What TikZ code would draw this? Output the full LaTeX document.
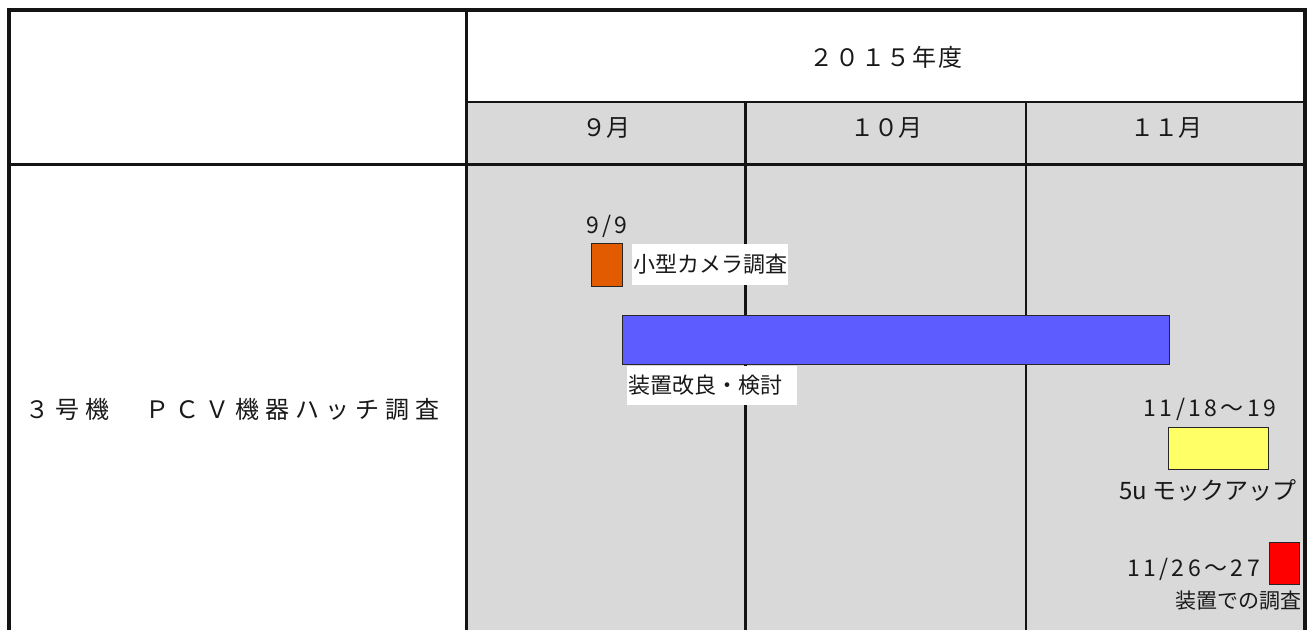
\documentclass[tikz,border=0pt]{standalone}
\usepackage{fontspec}
\newfontfamily\jp{Noto Sans CJK JP}
\newfontfamily\jpwide[LetterSpace=25]{Noto Sans CJK JP}
\newfontfamily\jpyear[LetterSpace=7]{Noto Sans CJK JP}
\newfontfamily\jpdate[LetterSpace=15]{Noto Sans CJK JP}
\definecolor{cellgrey}{HTML}{D9D9D9}
\definecolor{camorange}{HTML}{E35B00}
\definecolor{barblue}{HTML}{5C5CFF}
\definecolor{mockyellow}{HTML}{FFFF66}
\definecolor{probered}{HTML}{FF0000}
\tikzset{
  gridline/.style={line width=2.5pt, draw=black!92},
  outerline/.style={line width=4pt, draw=black!92, line join=miter},
  bar/.style={draw=black!85, line width=1.3pt, inner sep=0pt, anchor=north west},
  head/.style={font=\jp\fontsize{24}{28}\selectfont, inner sep=0pt, text=black!90},
  small/.style={font=\jp\fontsize{22}{26}\selectfont, inner sep=0pt, text=black!90},
  datelbl/.style={font=\jpdate\fontsize{23}{27}\selectfont, inner sep=0pt, text=black!90},
}
\begin{document}
\begin{tikzpicture}[x=1pt,y=-1pt]
\useasboundingbox (0,0) rectangle (1310,630);
\fill[white] (0,0) rectangle (1310,630);
% grey area
\fill[cellgrey] (466,101) rectangle (1305,630);
% grid
\draw[gridline, line width=2pt] (466,101.7) -- (1305,101.7);
\draw[gridline, line width=3pt] (9,164) -- (1305,164);
\draw[gridline] (466.5,10) -- (466.5,630);
\draw[gridline] (745.5,101) -- (745.5,630);
\draw[gridline] (1026,101) -- (1026,630);
% outer frame
\draw[outerline] (9,630) -- (9,10) -- (1305,10) -- (1305,630);
% header texts
\node[head, font=\jpyear\fontsize{24}{28}\selectfont] (year) at (886,57) {２０１５年度};
\node[head] (m9) at (606,128) {９月};
\node[head] (m10) at (886,128) {１０月};
\node[head] (m11) at (1166,128) {１１月};
% row label
\node[head, font=\jpwide\fontsize{24}{28}\selectfont, anchor=west] (task) at (25,409) {３号機　ＰＣＶ機器ハッチ調査};
% camera survey
\node[datelbl] (d99) at (607,226) {9/9};
\node[bar, fill=camorange, minimum width=31pt, minimum height=43pt] (cam) at (591,243) {};
\node[small, fill=white, anchor=west, inner xsep=1pt, minimum height=41pt] (camlbl) at (632,264) {小型カメラ調査};
% improvement bar
\node[bar, fill=barblue, minimum width=547pt, minimum height=49pt] (imp) at (622,315) {};
\fill[white] (627,365.5) rectangle (797,405);
\node[small, anchor=west] (implbl) at (628,385) {装置改良・検討};
% mockup
\node[datelbl] (d1118) at (1210,409) {11/18～19};
\node[bar, fill=mockyellow, minimum width=100pt, minimum height=42pt] (mock) at (1168,427) {};
\node[head, anchor=east] (mocklbl) at (1297,490) {5u モックアップ};
% survey
\node[bar, fill=probered, minimum width=30pt, minimum height=42pt] (surv) at (1269,542) {};
\node[datelbl, anchor=east] (d1126) at (1260,569) {11/26～27};
\node[small, font=\jp\fontsize{21}{25}\selectfont, anchor=east] (survlbl) at (1302,601) {装置での調査};
\end{tikzpicture}
\end{document}
